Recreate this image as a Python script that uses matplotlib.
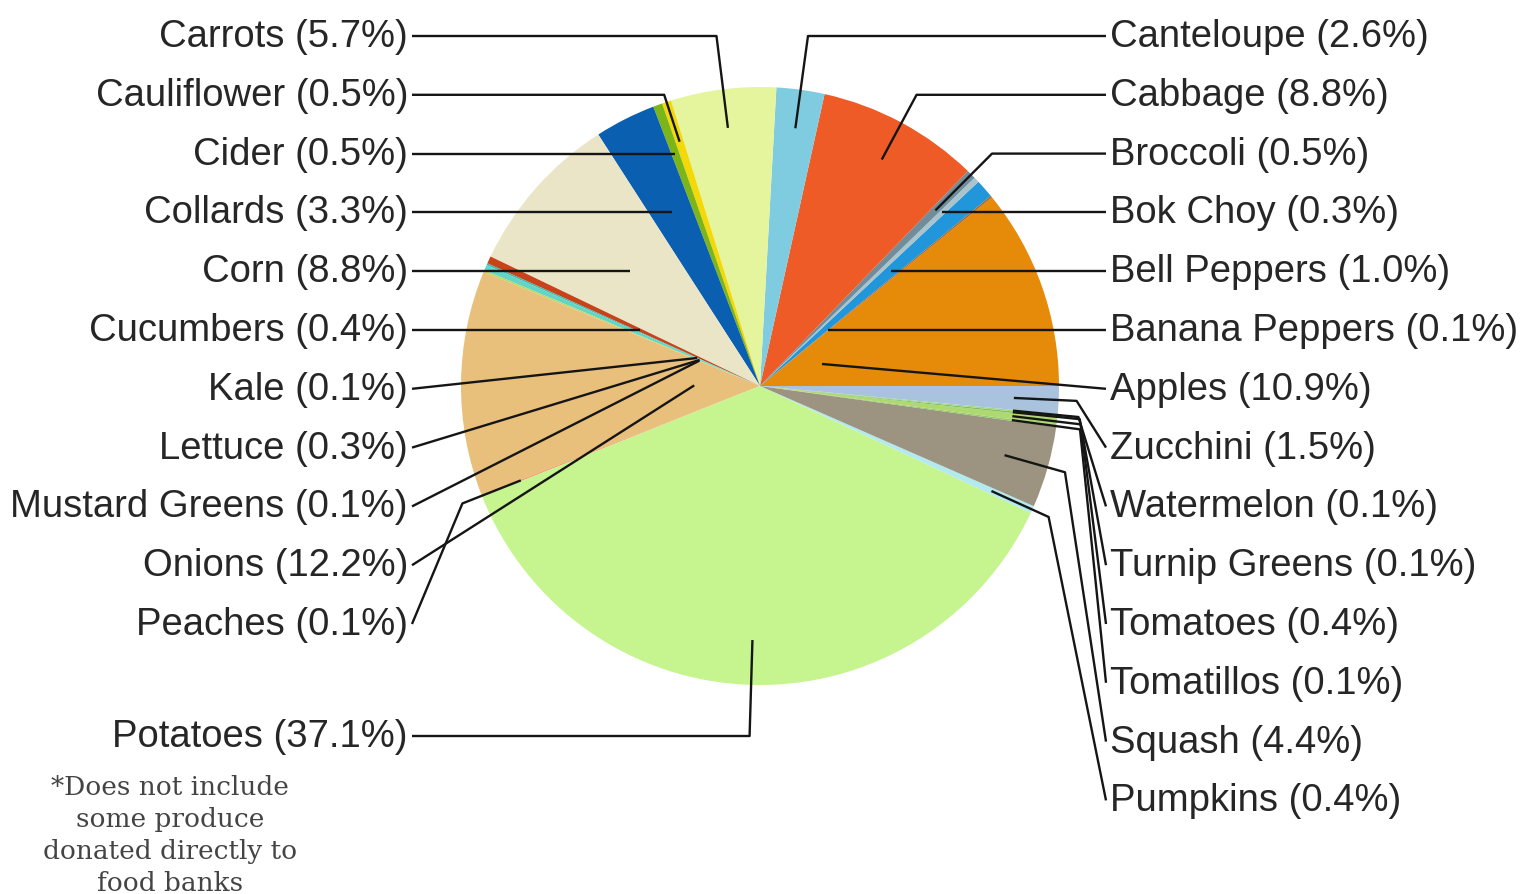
import numpy as np
import matplotlib
matplotlib.use('Agg')
import matplotlib.pyplot as plt

# produce shares, alphabetical; the pie runs counter-clockwise from 3 o'clock
names = ['Apples', 'Banana Peppers', 'Bell Peppers', 'Bok Choy', 'Broccoli', 'Cabbage',
         'Canteloupe', 'Carrots', 'Cauliflower', 'Cider', 'Collards', 'Corn', 'Cucumbers',
         'Kale', 'Lettuce', 'Mustard Greens', 'Onions', 'Peaches', 'Potatoes', 'Pumpkins',
         'Squash', 'Tomatillos', 'Tomatoes', 'Turnip Greens', 'Watermelon', 'Zucchini']
pcts = [10.9, 0.1, 1.0, 0.3, 0.5, 8.8, 2.6, 5.7, 0.5, 0.5, 3.3, 8.8, 0.4,
        0.1, 0.3, 0.1, 12.2, 0.1, 37.1, 0.4, 4.4, 0.1, 0.4, 0.1, 0.1, 1.5]
colors = ['#E68A0A', '#B5651D', '#2296DA', '#A9C4CC', '#6F8D9B', '#EE5B26',
          '#7FCBE0', '#E5F59D', '#F3D80A', '#7CB518', '#0B5FB0', '#EAE5C6', '#C8421A',
          '#3FB8A8', '#62D4C8', '#B8D860', '#E8C07B', '#F2A070', '#C6F48F', '#B2EAF0',
          '#9C9481', '#8FCB6A', '#B0D870', '#7FC060', '#A0D880', '#A9C2DE']

right_labels = ['Canteloupe', 'Cabbage', 'Broccoli', 'Bok Choy', 'Bell Peppers',
                'Banana Peppers', 'Apples', 'Zucchini', 'Watermelon', 'Turnip Greens',
                'Tomatoes', 'Tomatillos', 'Squash', 'Pumpkins']
left_labels = ['Carrots', 'Cauliflower', 'Cider', 'Collards', 'Corn', 'Cucumbers', 'Kale',
               'Lettuce', 'Mustard Greens', 'Onions', 'Peaches']

footnote = ['*Does not include', 'some produce', 'donated directly to', 'food banks']

# leader layout: (anchor radius as fraction of R, elbow) ; elbow 'y' = where ray meets label row
leaders = {
    'Canteloupe': (0.87, 'y'), 'Cabbage': (0.86, 'y'), 'Broccoli': (0.83, 'y'),
    'Bok Choy': (None, 'y'), 'Bell Peppers': (None, 'y'), 'Banana Peppers': (None, 'y'),
    'Apples': (0.22, None), 'Zucchini': (0.85, 1.06), 'Watermelon': (0.85, 1.07),
    'Turnip Greens': (0.85, 1.075), 'Tomatoes': (0.85, 1.08), 'Tomatillos': (0.85, 1.08),
    'Squash': (0.85, 1.06), 'Pumpkins': (0.85, 1.06),
    'Carrots': (0.87, 'y'), 'Cauliflower': (0.86, 'y'), 'Cider': (None, 'y'),
    'Collards': (None, 'y'), 'Corn': (None, 'y'), 'Cucumbers': (None, 'y'),
    'Kale': (0.23, None), 'Lettuce': (0.22, None), 'Mustard Greens': (0.22, None),
    'Onions': (0.22, None), 'Peaches': (0.86, 1.07), 'Potatoes': (0.85, 'y'),
}

W, H = 1520, 895
cx, cy, R = 760, H - 387, 299

fig = plt.figure(figsize=(15.2, 8.95), dpi=100)
ax = fig.add_axes([0, 0, 1, 1])
wedges, _ = ax.pie(pcts, colors=colors, startangle=0, counterclock=True,
                   center=(cx, cy), radius=R, wedgeprops=dict(linewidth=0))
ax.set_xlim(0, W)
ax.set_ylim(0, H)
ax.axis('off')

mid = {n: np.deg2rad((w.theta1 + w.theta2) / 2) for n, w in zip(names, wedges)}

row_y = {}
for i, n in enumerate(left_labels):
    row_y[n] = (H - 37 - 58.8 * i, 'L')
row_y['Potatoes'] = (H - 737, 'L')
for i, n in enumerate(right_labels):
    row_y[n] = (H - 37 - 58.8 * i, 'R')

pct_of = dict(zip(names, pcts))
for n, (ly, side) in row_y.items():
    th = mid[n]
    if side == 'L':
        ax.text(408, ly, f'{n} ({pct_of[n]:.1f}%)', ha='right', va='center',
                fontsize=27.5, family='Liberation Sans', color='#262626')
        start = (412, ly)
    else:
        ax.text(1110, ly, f'{n} ({pct_of[n]:.1f}%)', ha='left', va='center',
                fontsize=27.5, family='Liberation Sans', color='#262626')
        start = (1106, ly)
    r_in, elbow = leaders[n]
    pts = [start]
    if elbow == 'y':
        r = (ly - cy) / np.sin(th)
        pts.append((cx + r * np.cos(th), ly))
    elif elbow is not None:
        pts.append((cx + elbow * R * np.cos(th), cy + elbow * R * np.sin(th)))
    if r_in is not None:
        pts.append((cx + r_in * R * np.cos(th), cy + r_in * R * np.sin(th)))
    xs, ys = zip(*pts)
    ax.plot(xs, ys, color='#151515', lw=1.7, solid_capstyle='butt')

for i, line in enumerate(footnote):
    ax.text(170, H - 788 - 32 * i, line, ha='center', va='center',
            fontsize=19, family='DejaVu Serif', color='#444444')

fig.savefig('out.png', dpi=100)
